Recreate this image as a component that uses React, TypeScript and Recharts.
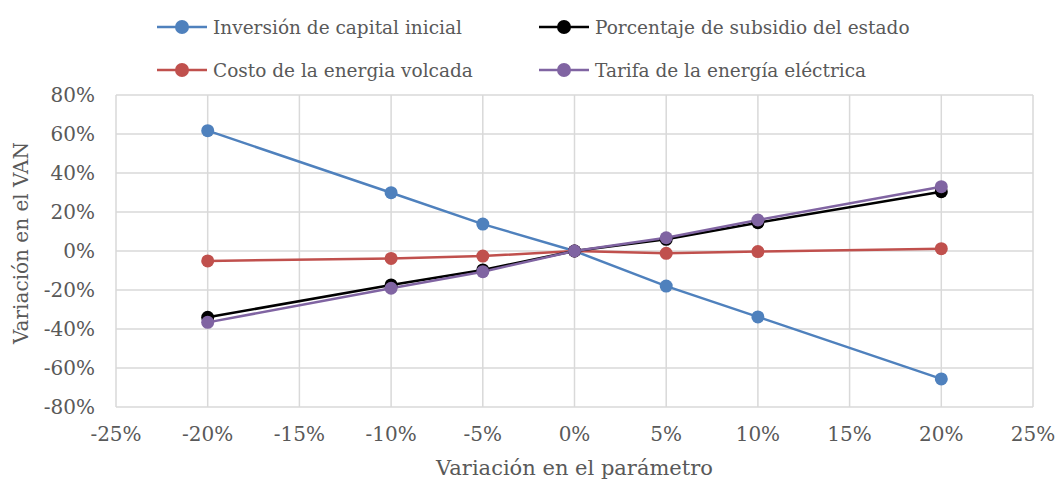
import React from "react";
import { LineChart, Line, XAxis, YAxis, CartesianGrid, Legend, Label } from "recharts";

const xValues = [-0.2, -0.1, -0.05, 0, 0.05, 0.1, 0.2];
const inversion = [0.617, 0.299, 0.138, 0, -0.18, -0.338, -0.656];
const subsidio = [-0.34, -0.174, -0.097, 0, 0.06, 0.145, 0.304];
const costo = [-0.051, -0.038, -0.026, 0, -0.012, -0.003, 0.012];
const tarifa = [-0.366, -0.191, -0.106, 0, 0.068, 0.159, 0.33];
const xTicks = [-0.25, -0.2, -0.15, -0.1, -0.05, 0, 0.05, 0.1, 0.15, 0.2, 0.25];
const yTicks = [-0.8, -0.6, -0.4, -0.2, 0, 0.2, 0.4, 0.6, 0.8];

const series = [
  { key: "inversion", name: "Inversión de capital inicial", color: "#4f81bd" },
  { key: "costo", name: "Costo de la energia volcada", color: "#c0504d" },
  { key: "subsidio", name: "Porcentaje de subsidio del estado", color: "#000000" },
  { key: "tarifa", name: "Tarifa de la energía eléctrica", color: "#8064a2" },
];

const data = xValues.map((x, i) => ({
  x,
  inversion: inversion[i],
  subsidio: subsidio[i],
  costo: costo[i],
  tarifa: tarifa[i],
}));

const FONT = "'DejaVu Serif', serif";
const TEXT = "#595959";
const fmt = (v: number) => `${Math.round(v * 100)}%`;

const legendOrder = [
  { name: "Inversión de capital inicial", color: "#4f81bd", x: 157, y: 27 },
  { name: "Porcentaje de subsidio del estado", color: "#000000", x: 539, y: 27 },
  { name: "Costo de la energia volcada", color: "#c0504d", x: 157, y: 70 },
  { name: "Tarifa de la energía eléctrica", color: "#8064a2", x: 539, y: 70 },
];

const CustomLegend = () => (
  <div style={{ position: "absolute", left: 0, top: 0, width: 1057, height: 90 }}>
    {legendOrder.map((l) => (
      <div
        key={l.name}
        style={{
          position: "absolute",
          left: l.x,
          top: l.y - 13,
          height: 26,
          display: "flex",
          alignItems: "center",
          fontFamily: FONT,
          fontSize: 18.5,
          color: TEXT,
          whiteSpace: "nowrap",
        }}
      >
        <svg width={50} height={16} style={{ marginRight: 6 }}>
          <line x1={0} y1={8} x2={50} y2={8} stroke={l.color} strokeWidth={2.5} />
          <circle cx={25} cy={8} r={7} fill={l.color} />
        </svg>
        {l.name}
      </div>
    ))}
  </div>
);

const YLabel = (props: any) => {
  const vb = props.viewBox || { x: 0, y: 0, width: 0, height: 0 };
  const cx = 28;
  const cy = vb.y + vb.height / 2 - 8;
  return (
    <text
      x={cx}
      y={cy}
      transform={`rotate(-90, ${cx}, ${cy})`}
      textAnchor="middle"
      fill={TEXT}
      fontFamily={FONT}
      fontSize={20}
    >
      Variación en el VAN
    </text>
  );
};

export default function App() {
  return (
    <div style={{ position: "absolute", left: 0, top: 0, width: 1057, height: 483, background: "#fff" }}>
      <LineChart
        width={1057}
        height={483}
        data={data}
        margin={{ top: 95, right: 24, bottom: 36, left: 56 }}
      >
        <CartesianGrid stroke="#d9d9d9" strokeWidth={1.5} />
        <XAxis
          type="number"
          dataKey="x"
          domain={[-0.25, 0.25]}
          ticks={xTicks}
          tickFormatter={fmt}
          axisLine={false}
          tickLine={false}
          height={40}
          tick={{ fill: TEXT, fontFamily: FONT, fontSize: 20 }}
          tickMargin={14}
        >
          <Label
            value="Variación en el parámetro"
            position="insideBottom"
            offset={-28}
            style={{ fill: TEXT, fontFamily: FONT, fontSize: 21 }}
          />
        </XAxis>
        <YAxis
          type="number"
          domain={[-0.8, 0.8]}
          ticks={yTicks}
          tickFormatter={fmt}
          axisLine={false}
          tickLine={false}
          width={60}
          tick={{ fill: TEXT, fontFamily: FONT, fontSize: 20 }}
          tickMargin={15}
        >
          <Label content={<YLabel />} />
        </YAxis>
        <Legend content={<CustomLegend />} wrapperStyle={{ position: "absolute", left: 0, top: 0 }} />
        {series.map((s) => (
          <Line
            key={s.key}
            type="linear"
            dataKey={s.key}
            name={s.name}
            stroke={s.color}
            strokeWidth={2.5}
            dot={{ r: 6.5, fill: s.color, stroke: s.color, strokeWidth: 0 }}
            activeDot={false}
            isAnimationActive={false}
          />
        ))}
      </LineChart>
    </div>
  );
}
